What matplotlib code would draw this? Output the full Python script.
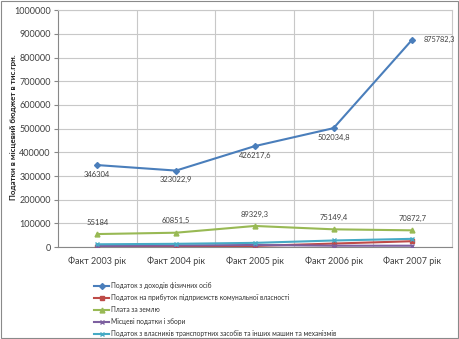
import matplotlib
matplotlib.use("Agg")
import matplotlib.pyplot as plt
from matplotlib.patches import Rectangle

plt.rcParams['font.family'] = ['Lato', 'DejaVu Sans']

categories = ["Факт 2003 рік", "Факт 2004 рік", "Факт 2005 рік", "Факт 2006 рік", "Факт 2007 рік"]

pdfo = [346304, 323022.9, 426217.6, 502034.8, 875782.3]
profit_tax = [1500, 3000, 5000, 15000, 25000]
land_fee = [55184, 60851.5, 89329.3, 75149.4, 70872.7]
local_taxes = [5000, 7000, 9000, 6000, 6000]
transport_tax = [12000, 14000, 18000, 28000, 35000]

series_names = [
    "Податок з доходів фізичних осіб",
    "Податок на прибуток підприємств комунальної власності",
    "Плата за землю",
    "Місцеві податки і збори",
    "Податок з власників транспортних засобів та інших машин та механізмів",
]

yticks = [0, 100000, 200000, 300000, 400000, 500000, 600000, 700000, 800000, 900000, 1000000]


def fmt(v):
    if float(v).is_integer():
        return str(int(v))
    return repr(float(v)).replace(".", ",")


fig = plt.figure(figsize=(4.59, 3.39), dpi=100)
ax = fig.add_axes([0.126, 0.271, 0.858, 0.699])

x = list(range(len(categories)))
styles = [
    (pdfo, "#4A7EBB", "D", 3),
    (profit_tax, "#BE4B48", "s", 3.5),
    (land_fee, "#98B954", "^", 3.5),
    (local_taxes, "#7D60A0", "x", 3.5),
    (transport_tax, "#46AAC5", "x", 3.5),
]
lines = []
for (vals, col, mk, ms), name in zip(styles, series_names):
    ln, = ax.plot(x, vals, color=col, marker=mk, markersize=ms, linewidth=1.5,
                  markeredgewidth=1, label=name, zorder=3)
    lines.append(ln)

# value labels for the income tax and the land fee
for i, v in enumerate(pdfo):
    if i == len(pdfo) - 1:
        ax.annotate(fmt(v), (i, v), xytext=(8, 0), textcoords="offset points",
                    ha="left", va="center", fontsize=5.3, color="#404040")
    else:
        ax.annotate(fmt(v), (i, v), xytext=(0, -4), textcoords="offset points",
                    ha="center", va="top", fontsize=5.5, color="#404040")
for i, v in enumerate(land_fee):
    ax.annotate(fmt(v), (i, v), xytext=(0, 6), textcoords="offset points",
                ha="center", va="bottom", fontsize=5.5, color="#404040")

ax.set_xlim(-0.5, len(categories) - 0.5)
ax.set_ylim(0, 1000000)
ax.set_yticks(yticks)
ax.set_yticklabels([str(t) for t in yticks], fontsize=6.5, color="#404040")
ax.set_xticks(x)
ax.set_xticklabels(categories, fontsize=6.5, color="#404040")
ax.set_xticks([i + 0.5 for i in x[:-1]], minor=True)
ax.grid(True, axis="y", color="#C8C8C8", linewidth=0.8)
ax.grid(True, axis="x", which="minor", color="#C8C8C8", linewidth=0.8)
ax.tick_params(axis="x", which="both", length=0, pad=7)
ax.tick_params(axis="y", length=3, color="#888888", pad=2)
for side in ["top", "right"]:
    ax.spines[side].set_color("#C8C8C8")
    ax.spines[side].set_linewidth(0.8)
for side in ["left", "bottom"]:
    ax.spines[side].set_color("#888888")
    ax.spines[side].set_linewidth(0.8)

fig.text(14 / 459, 0.625, "Податки в місцевий бюджет в тис.грн.", rotation=90,
         ha="center", va="center", fontsize=5.8, fontweight="bold", color="#202020")

leg = fig.legend(handles=lines, loc="upper left", bbox_to_anchor=(0.2, 0.175),
                 fontsize=4.8, frameon=False, handlelength=2.2, handletextpad=0.3,
                 labelspacing=0.75, borderaxespad=0)
for t in leg.get_texts():
    t.set_color("#303030")

fig.patches.append(Rectangle((0.003, 0.003), 0.994, 0.994, transform=fig.transFigure,
                             fill=False, edgecolor="#8A8A8A", linewidth=0.8))

fig.savefig("out.png", dpi=100)
